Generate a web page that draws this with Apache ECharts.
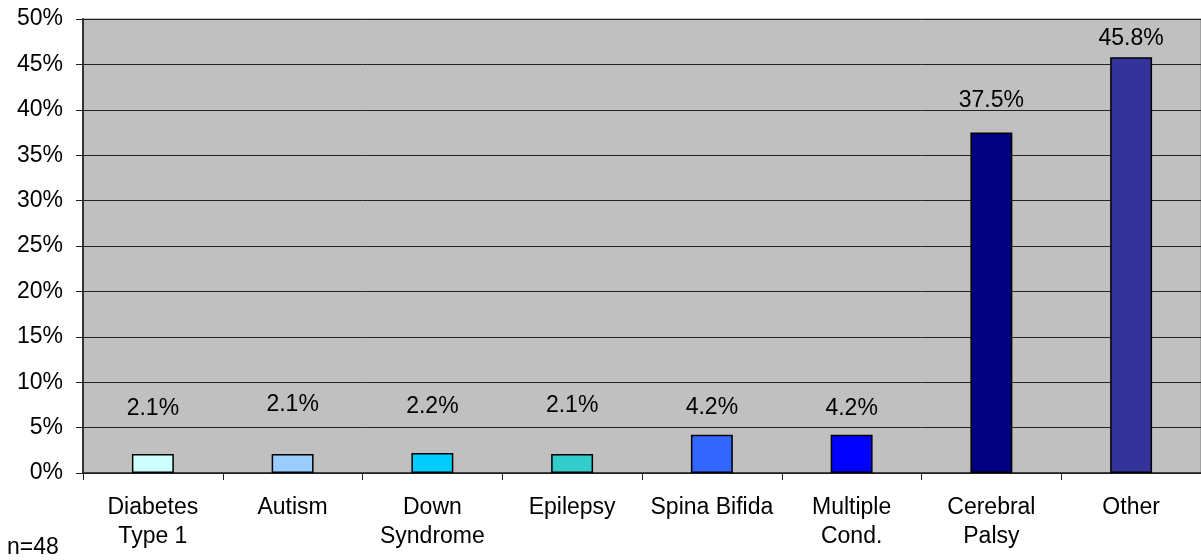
<!DOCTYPE html>
<html>
<head>
<meta charset="utf-8">
<script src="https://cdn.jsdelivr.net/npm/echarts@6/dist/echarts.min.js"></script>
<style>
html,body{margin:0;padding:0;background:#fff;}
#chart{width:1201px;height:560px;}
</style>
</head>
<body>
<div id="chart"></div>
<script>
const categories = ["Diabetes\nType 1", "Autism", "Down\nSyndrome", "Epilepsy", "Spina Bifida", "Multiple\nCond.", "Cerebral\nPalsy", "Other"];
const values = [2.1, 2.1, 2.2, 2.1, 4.2, 4.2, 37.5, 45.8];
const barColors = ["#CCFFFF", "#99CCFF", "#00CCFF", "#33CCCC", "#3366FF", "#0000FF", "#000080", "#333399"];
const yTicks = [0, 5, 10, 15, 20, 25, 30, 35, 40, 45, 50];
const note = "n=48";

// label gap above each bar (style only)
const labelGap = [34, 38, 35, 37, 16, 15, 20, 7];

const FONT = "'Liberation Sans', Arial, sans-serif";
const chart = echarts.init(document.getElementById('chart'), null, {renderer: 'canvas'});

const option = {
  backgroundColor: '#ffffff',
  animation: false,
  grid: {
    left: 83, top: 19, bottom: 87, right: -6,
    show: true, backgroundColor: '#C0C0C0', borderColor: '#808080', borderWidth: 1
  },
  graphic: [{
    type: 'text', left: 7, top: 536,
    style: {text: note, fontFamily: FONT, fontSize: 23, fill: '#000'}
  }],
  xAxis: {
    type: 'category',
    data: categories,
    boundaryGap: true,
    axisLine: {show: true, lineStyle: {color: '#222', width: 1.5}},
    axisTick: {show: true, length: 7, alignWithLabel: false, lineStyle: {color: '#222'}},
    axisLabel: {
      interval: 0, margin: 20, color: '#000',
      fontFamily: FONT, fontSize: 23, lineHeight: 29
    },
    splitLine: {show: false}
  },
  yAxis: {
    type: 'value',
    min: yTicks[0], max: yTicks[yTicks.length - 1], interval: 5,
    axisLine: {show: true, lineStyle: {color: '#333', width: 2}},
    axisTick: {show: true, length: 7, lineStyle: {color: '#222'}},
    axisLabel: {
      margin: 20, color: '#000', fontFamily: FONT, fontSize: 23,
      formatter: v => v + '%'
    },
    splitLine: {show: true, lineStyle: {color: '#222', width: 1}}
  },
  series: [{
    type: 'bar',
    barWidth: '30%',
    data: values.map((v, i) => ({
      value: v,
      itemStyle: {color: barColors[i]},
      label: {distance: labelGap[i]}
    })),
    itemStyle: {borderColor: '#000', borderWidth: 1.5},
    label: {
      show: true, position: 'top', color: '#000',
      fontFamily: FONT, fontSize: 23,
      formatter: p => p.value.toFixed(1) + '%'
    }
  }]
};
chart.setOption(option);
</script>
</body>
</html>
